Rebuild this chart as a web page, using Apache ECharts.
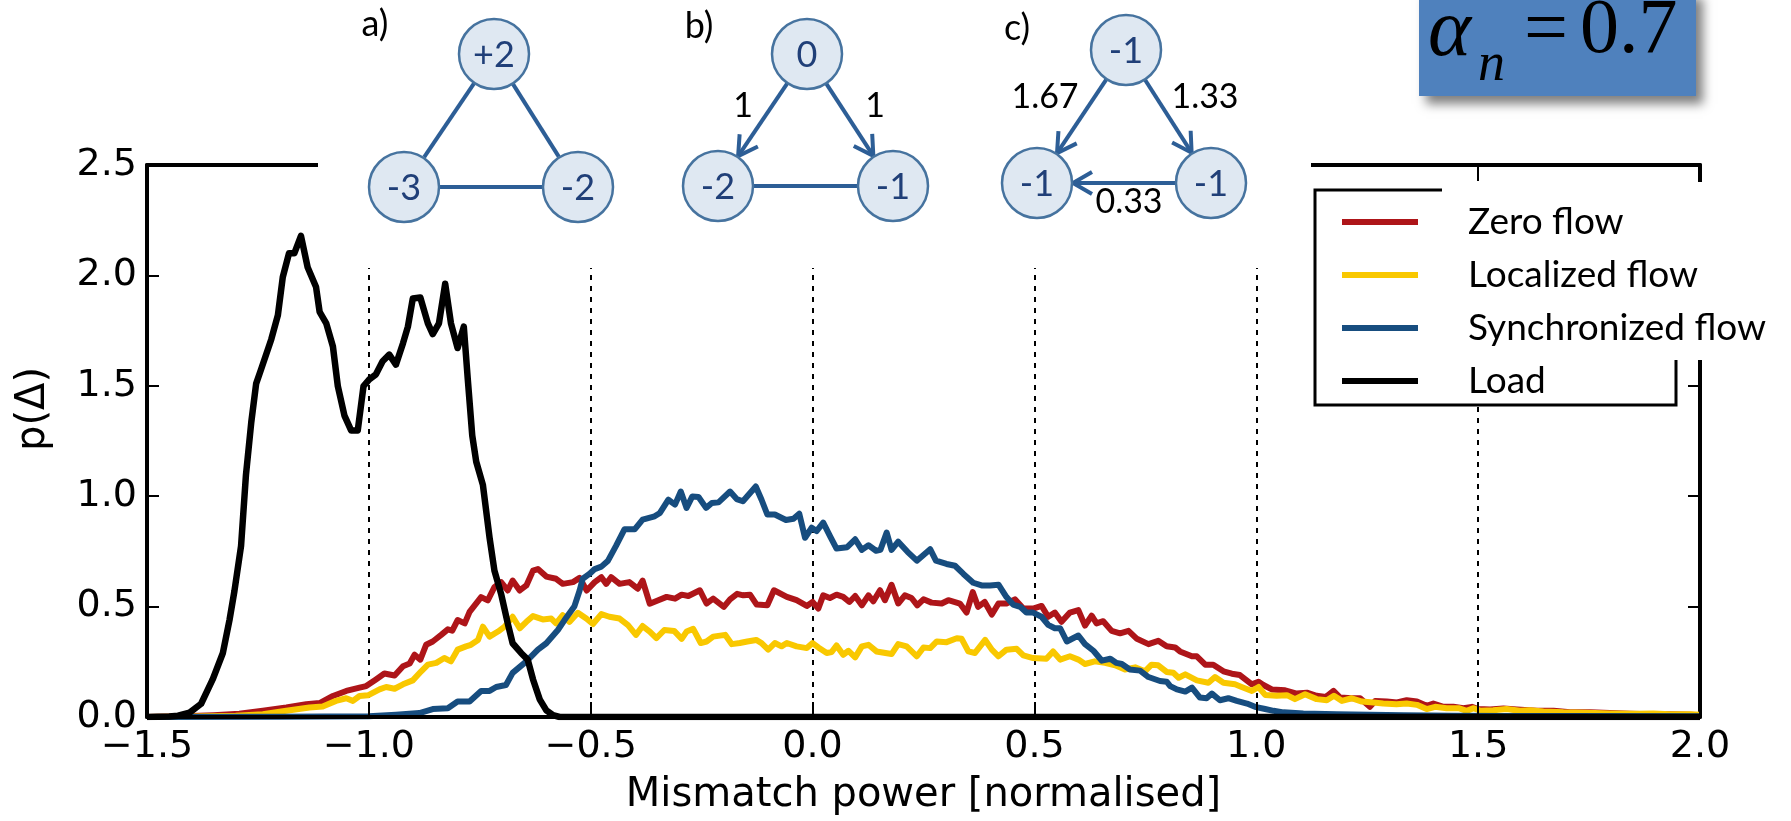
<!DOCTYPE html>
<html>
<head>
<meta charset="utf-8">
<script src="https://cdn.jsdelivr.net/npm/echarts@6/dist/echarts.min.js"></script>
<style>
  html, body { margin: 0; padding: 0; background: #fff; }
  #chart { width: 1791px; height: 821px; }
</style>
</head>
<body>
<div id="chart"></div>
<script>
// Probability densities of the nodal mismatch, [mismatch, p] pairs
const zeroFlow = [
  [-1.5,0],[-1.45,0.002],[-1.4,0.004],[-1.35,0.008],[-1.292,0.015],[-1.239,0.028],[-1.186,0.043],[-1.141,0.058],
  [-1.111,0.063],[-1.081,0.095],[-1.051,0.118],[-1.021,0.133],[-1.006,0.14],[-0.984,0.17],[-0.965,0.197],[-0.942,0.188],
  [-0.923,0.23],[-0.908,0.242],[-0.897,0.282],[-0.884,0.26],[-0.871,0.327],[-0.856,0.342],[-0.837,0.372],[-0.822,0.397],
  [-0.812,0.391],[-0.8,0.439],[-0.784,0.424],[-0.773,0.476],[-0.747,0.543],[-0.732,0.528],[-0.717,0.588],[-0.702,0.611],
  [-0.687,0.573],[-0.676,0.618],[-0.66,0.573],[-0.645,0.596],[-0.63,0.663],[-0.619,0.67],[-0.6,0.636],[-0.578,0.626],
  [-0.563,0.603],[-0.54,0.611],[-0.525,0.63],[-0.509,0.573],[-0.491,0.611],[-0.476,0.633],[-0.465,0.603],[-0.454,0.633],
  [-0.435,0.603],[-0.413,0.611],[-0.394,0.581],[-0.383,0.618],[-0.367,0.513],[-0.349,0.528],[-0.329,0.544],[-0.31,0.536],
  [-0.295,0.554],[-0.28,0.548],[-0.254,0.574],[-0.239,0.514],[-0.224,0.536],[-0.2,0.499],[-0.186,0.533],[-0.17,0.558],
  [-0.156,0.551],[-0.141,0.554],[-0.126,0.509],[-0.102,0.506],[-0.087,0.574],[-0.058,0.544],[-0.036,0.529],[-0.013,0.503],
  [0.0,0.521],[0.013,0.491],[0.024,0.551],[0.039,0.539],[0.054,0.554],[0.069,0.544],[0.083,0.521],[0.096,0.548],
  [0.111,0.506],[0.126,0.551],[0.137,0.524],[0.152,0.574],[0.163,0.529],[0.178,0.599],[0.193,0.514],[0.208,0.551],
  [0.223,0.539],[0.236,0.506],[0.25,0.533],[0.268,0.518],[0.291,0.514],[0.306,0.529],[0.332,0.514],[0.347,0.473],
  [0.361,0.566],[0.373,0.499],[0.388,0.521],[0.404,0.464],[0.419,0.514],[0.437,0.514],[0.456,0.533],[0.475,0.491],
  [0.497,0.491],[0.516,0.503],[0.531,0.454],[0.546,0.473],[0.561,0.431],[0.58,0.473],[0.599,0.484],[0.614,0.414],
  [0.629,0.459],[0.64,0.424],[0.655,0.434],[0.674,0.39],[0.693,0.379],[0.712,0.39],[0.731,0.354],[0.757,0.33],
  [0.779,0.345],[0.798,0.32],[0.817,0.315],[0.828,0.297],[0.855,0.275],[0.866,0.275],[0.885,0.237],[0.903,0.237],
  [0.926,0.207],[0.945,0.196],[0.963,0.19],[0.99,0.148],[1.005,0.16],[1.016,0.145],[1.035,0.125],[1.065,0.121],
  [1.091,0.106],[1.114,0.11],[1.136,0.096],[1.157,0.091],[1.174,0.118],[1.189,0.088],[1.215,0.085],[1.234,0.085],
  [1.256,0.046],[1.268,0.073],[1.294,0.07],[1.317,0.066],[1.339,0.076],[1.362,0.07],[1.384,0.051],[1.399,0.061],
  [1.422,0.046],[1.444,0.046],[1.467,0.04],[1.486,0.046],[1.5,0.036],[1.527,0.034],[1.557,0.039],[1.587,0.034],
  [1.632,0.028],[1.67,0.028],[1.707,0.022],[1.752,0.021],[1.797,0.018],[1.842,0.015],[1.888,0.013],[1.933,0.012],
  [1.978,0.01],[2.0,0.008]
];

const localizedFlow = [
  [-1.5,0],[-1.4,0.002],[-1.3,0.006],[-1.239,0.013],[-1.186,0.028],[-1.134,0.043],[-1.104,0.048],[-1.074,0.073],
  [-1.051,0.085],[-1.036,0.073],[-1.021,0.095],[-1.002,0.098],[-0.976,0.125],[-0.961,0.136],[-0.942,0.128],[-0.923,0.148],
  [-0.901,0.166],[-0.882,0.207],[-0.867,0.237],[-0.848,0.245],[-0.83,0.267],[-0.815,0.252],[-0.8,0.305],[-0.781,0.32],
  [-0.77,0.327],[-0.754,0.349],[-0.743,0.409],[-0.728,0.364],[-0.709,0.387],[-0.694,0.409],[-0.676,0.454],[-0.66,0.402],
  [-0.645,0.431],[-0.63,0.457],[-0.608,0.442],[-0.589,0.446],[-0.578,0.424],[-0.563,0.461],[-0.548,0.431],[-0.529,0.472],
  [-0.51,0.446],[-0.495,0.421],[-0.476,0.466],[-0.458,0.454],[-0.435,0.446],[-0.416,0.416],[-0.398,0.372],[-0.383,0.412],
  [-0.367,0.387],[-0.352,0.357],[-0.334,0.394],[-0.312,0.39],[-0.295,0.354],[-0.284,0.387],[-0.269,0.399],[-0.252,0.335],
  [-0.239,0.342],[-0.224,0.364],[-0.197,0.372],[-0.182,0.33],[-0.164,0.335],[-0.147,0.342],[-0.127,0.349],[-0.115,0.335],
  [-0.1,0.305],[-0.085,0.335],[-0.07,0.32],[-0.058,0.335],[-0.036,0.32],[-0.013,0.312],[0.0,0.335],[0.013,0.315],
  [0.032,0.29],[0.043,0.294],[0.054,0.324],[0.069,0.282],[0.081,0.3],[0.096,0.27],[0.111,0.32],[0.126,0.327],
  [0.144,0.297],[0.178,0.285],[0.193,0.33],[0.212,0.32],[0.235,0.275],[0.25,0.315],[0.265,0.312],[0.28,0.342],
  [0.302,0.339],[0.325,0.357],[0.336,0.354],[0.351,0.297],[0.366,0.29],[0.389,0.349],[0.404,0.305],[0.419,0.275],
  [0.437,0.305],[0.46,0.309],[0.475,0.279],[0.497,0.267],[0.527,0.264],[0.542,0.297],[0.558,0.26],[0.58,0.275],
  [0.599,0.26],[0.614,0.24],[0.636,0.252],[0.659,0.245],[0.682,0.234],[0.704,0.215],[0.727,0.225],[0.749,0.207],
  [0.764,0.237],[0.779,0.234],[0.798,0.204],[0.813,0.2],[0.825,0.178],[0.84,0.193],[0.866,0.166],[0.892,0.155],
  [0.907,0.181],[0.926,0.155],[0.952,0.148],[0.967,0.136],[0.99,0.118],[1.005,0.136],[1.02,0.1],[1.046,0.096],
  [1.069,0.099],[1.087,0.081],[1.11,0.103],[1.136,0.081],[1.159,0.076],[1.175,0.096],[1.193,0.073],[1.215,0.085],
  [1.238,0.07],[1.264,0.066],[1.286,0.061],[1.316,0.058],[1.339,0.061],[1.362,0.055],[1.384,0.036],[1.403,0.046],
  [1.429,0.04],[1.456,0.04],[1.474,0.028],[1.49,0.04],[1.505,0.028],[1.534,0.031],[1.564,0.036],[1.594,0.028],
  [1.617,0.031],[1.647,0.025],[1.692,0.021],[1.745,0.019],[1.797,0.016],[1.857,0.015],[1.895,0.016],[1.933,0.013],
  [1.978,0.012],[2.0,0.01]
];

const synchronizedFlow = [
  [-1.5,0],[-1.2,0.001],[-1.0,0.003],[-0.939,0.01],[-0.886,0.018],[-0.856,0.036],[-0.822,0.04],[-0.8,0.07],
  [-0.773,0.07],[-0.747,0.118],[-0.728,0.118],[-0.713,0.136],[-0.691,0.145],[-0.676,0.2],[-0.645,0.252],[-0.619,0.305],
  [-0.6,0.334],[-0.574,0.394],[-0.559,0.439],[-0.537,0.5],[-0.525,0.573],[-0.518,0.626],[-0.503,0.648],[-0.491,0.67],
  [-0.476,0.681],[-0.461,0.708],[-0.443,0.775],[-0.424,0.85],[-0.401,0.85],[-0.383,0.894],[-0.356,0.909],[-0.344,0.924],
  [-0.325,0.984],[-0.31,0.962],[-0.297,1.021],[-0.284,0.947],[-0.271,0.999],[-0.257,0.996],[-0.24,0.947],[-0.227,0.969],
  [-0.212,0.972],[-0.186,1.021],[-0.171,0.987],[-0.157,0.977],[-0.128,1.044],[-0.115,0.984],[-0.102,0.917],[-0.085,0.917],
  [-0.06,0.892],[-0.043,0.898],[-0.03,0.921],[-0.017,0.812],[-0.002,0.857],[0.009,0.842],[0.024,0.88],[0.039,0.82],
  [0.054,0.763],[0.078,0.769],[0.096,0.805],[0.111,0.757],[0.126,0.778],[0.143,0.753],[0.153,0.757],[0.167,0.835],
  [0.178,0.757],[0.193,0.794],[0.214,0.748],[0.235,0.708],[0.265,0.76],[0.278,0.708],[0.302,0.693],[0.321,0.685],
  [0.34,0.648],[0.362,0.608],[0.381,0.596],[0.4,0.596],[0.419,0.599],[0.437,0.543],[0.452,0.509],[0.468,0.499],
  [0.482,0.473],[0.497,0.473],[0.516,0.454],[0.531,0.417],[0.546,0.402],[0.558,0.402],[0.573,0.342],[0.599,0.369],
  [0.614,0.33],[0.633,0.3],[0.652,0.255],[0.671,0.264],[0.685,0.245],[0.697,0.24],[0.715,0.215],[0.738,0.21],
  [0.757,0.181],[0.783,0.163],[0.798,0.16],[0.806,0.14],[0.821,0.125],[0.84,0.115],[0.855,0.133],[0.873,0.088],
  [0.888,0.085],[0.9,0.106],[0.918,0.076],[0.937,0.085],[0.956,0.073],[0.979,0.061],[0.997,0.046],[1.02,0.036],
  [1.039,0.028],[1.061,0.021],[1.106,0.016],[1.181,0.013],[1.256,0.01],[1.332,0.008],[1.444,0.006],[1.557,0.005],
  [1.707,0.004],[2.0,0.003]
];

const load = [
  [-1.5,0],[-1.45,0.002],[-1.43,0.006],[-1.404,0.02],[-1.378,0.06],[-1.352,0.17],[-1.329,0.29],[-1.314,0.44],
  [-1.303,0.57],[-1.288,0.775],[-1.277,1.096],[-1.265,1.335],[-1.254,1.51],[-1.243,1.574],[-1.22,1.71],[-1.205,1.82],
  [-1.194,1.992],[-1.18,2.1],[-1.168,2.1],[-1.153,2.179],[-1.138,2.037],[-1.119,1.947],[-1.111,1.835],[-1.096,1.783],
  [-1.081,1.678],[-1.07,1.499],[-1.055,1.365],[-1.04,1.298],[-1.025,1.298],[-1.012,1.499],[-0.999,1.529],[-0.984,1.552],
  [-0.969,1.611],[-0.954,1.641],[-0.939,1.596],[-0.923,1.693],[-0.912,1.768],[-0.901,1.895],[-0.884,1.9],[-0.867,1.783],
  [-0.856,1.734],[-0.842,1.783],[-0.828,1.962],[-0.815,1.783],[-0.8,1.671],[-0.786,1.768],[-0.777,1.529],[-0.767,1.275],
  [-0.758,1.156],[-0.743,1.051],[-0.728,0.812],[-0.717,0.663],[-0.702,0.558],[-0.687,0.424],[-0.676,0.334],[-0.657,0.29],
  [-0.642,0.26],[-0.63,0.17],[-0.615,0.08],[-0.6,0.03],[-0.585,0.008],[-0.57,0],[2.0,0]
];

const seriesNames = ['Zero flow', 'Localized flow', 'Synchronized flow', 'Load'];
const seriesColors = ['#ae1519', '#f9c800', '#174d7f', '#000000'];
const seriesData = [zeroFlow, localizedFlow, synchronizedFlow, load];

// Three-node network sketches above the plot
const diagrams = [
  { label: 'a)', labelAt: [375, 24],
    nodes: [['+2', 494, 54], ['-3', 404, 187], ['-2', 578, 187]],
    edges: [[0, 1, false], [0, 2, false], [1, 2, false]] },
  { label: 'b)', labelAt: [699, 26],
    nodes: [['0', 807, 54], ['-2', 718, 186], ['-1', 893, 186]],
    edges: [[0, 1, true, '1', 743, 106], [0, 2, true, '1', 875, 106], [1, 2, false]] },
  { label: 'c)', labelAt: [1017, 28],
    nodes: [['-1', 1126, 50], ['-1', 1037, 183], ['-1', 1211, 183]],
    edges: [[0, 1, true, '1.67', 1045, 97], [0, 2, true, '1.33', 1205, 97], [2, 1, true, '0.33', 1129, 202]] }
];

const NODE_R = 35;
const EDGE_COLOR = '#2d5e96';
const sans = 'Lato';
const serif = '"Liberation Serif", "DejaVu Serif", serif';
const axisFont = 'DejaVu Sans';

function textEl(x, y, text, size, family, fill, opts) {
  opts = opts || {};
  return {
    type: 'text', z: opts.z || 62, x: x, y: y, rotation: opts.rotation || 0,
    style: {
      text: text, fill: fill, fontSize: size, fontFamily: family,
      fontStyle: opts.italic ? 'italic' : 'normal',
      align: opts.align || 'center', verticalAlign: 'middle',
      textAlign: opts.align || 'center', textVerticalAlign: 'middle'
    }
  };
}

function diagramElements(d) {
  const els = [];
  d.edges.forEach(e => {
    const a = d.nodes[e[0]], b = d.nodes[e[1]];
    const dx = b[1] - a[1], dy = b[2] - a[2];
    const len = Math.sqrt(dx * dx + dy * dy);
    const ux = dx / len, uy = dy / len;
    const sx = a[1] + ux * NODE_R, sy = a[2] + uy * NODE_R;
    const ex = b[1] - ux * (NODE_R + 1), ey = b[2] - uy * (NODE_R + 1);
    els.push({ type: 'line', z: 60, shape: { x1: sx, y1: sy, x2: ex, y2: ey },
      style: { stroke: EDGE_COLOR, lineWidth: 4 } });
    if (e[2]) {
      const L = 19, W = 11, nx = -uy, ny = ux;
      els.push({ type: 'polyline', z: 60,
        shape: { points: [[ex - ux * L + nx * W, ey - uy * L + ny * W], [ex, ey], [ex - ux * L - nx * W, ey - uy * L - ny * W]] },
        style: { stroke: EDGE_COLOR, lineWidth: 4, fill: null, lineJoin: 'miter' } });
    }
    if (e[3]) els.push(textEl(e[4], e[5], e[3], 34, sans, '#000'));
  });
  d.nodes.forEach(n => {
    els.push({ type: 'circle', z: 61, shape: { cx: n[1], cy: n[2], r: NODE_R },
      style: { fill: '#dfe8f2', stroke: '#46739f', lineWidth: 2.5 } });
    els.push(textEl(n[1], n[2] + 1, n[0], 36, sans, '#203f78'));
  });
  els.push(textEl(d.labelAt[0], d.labelAt[1], d.label, 36, sans, '#000'));
  return els;
}

const graphicElements = [
  // blank backdrop behind the network sketches
  { type: 'rect', z: 50, shape: { x: 318, y: 0, width: 993, height: 268 }, style: { fill: '#fff' } },
  // legend frame and its backdrop
  { type: 'rect', z: 50, shape: { x: 1315, y: 190, width: 361, height: 215 },
    style: { fill: '#fff', stroke: '#000', lineWidth: 3 } },
  { type: 'rect', z: 51, shape: { x: 1442, y: 182, width: 349, height: 178 }, style: { fill: '#fff' } },
  // parameter badge
  { type: 'rect', z: 55, shape: { x: 1419, y: -10, width: 277, height: 106 },
    style: { fill: '#4f81bd', shadowBlur: 10, shadowOffsetX: 7, shadowOffsetY: 8, shadowColor: 'rgba(0,0,0,0.5)' } },
  textEl(1428, 33, 'α', 82, serif, '#000', { italic: true, align: 'left', z: 56 }),
  textEl(1478, 66, 'n', 54, serif, '#000', { italic: true, align: 'left', z: 56 }),
  textEl(1546, 33, '=', 78, serif, '#000', { z: 56 }),
  textEl(1580, 32, '0.7', 78, serif, '#000', { align: 'left', z: 56 }),
  // y axis title
  textEl(34, 409, 'p(Δ)', 40, axisFont, '#000', { rotation: Math.PI / 2, z: 56 })
];
diagrams.forEach(d => graphicElements.push(...diagramElements(d)));

const tickFmt = v => (v < 0 ? '\u2212' : '') + Math.abs(v).toFixed(1);

const chart = echarts.init(document.getElementById('chart'), null, { renderer: 'canvas' });
chart.setOption({
  animation: false,
  backgroundColor: '#fff',
  grid: { left: 147, right: 91, top: 165, bottom: 98 },
  legend: {
    data: seriesNames,
    orient: 'vertical',
    left: 1337, top: 197,
    zlevel: 1,
    icon: 'rect',
    itemWidth: 76, itemHeight: 6,
    itemGap: 13,
    selectedMode: false,
    textStyle: { fontFamily: sans, fontSize: 37, color: '#000', lineHeight: 40, padding: [0, 0, 0, 45] }
  },
  xAxis: [
    {
      type: 'value', min: -1.5, max: 2, interval: 0.5, position: 'bottom', z: 3,
      name: 'Mismatch power [normalised]', nameLocation: 'middle', nameGap: 59,
      nameTextStyle: { fontFamily: axisFont, fontSize: 40, color: '#000' },
      axisLine: { show: true, onZero: false, lineStyle: { color: '#000', width: 4 } },
      axisTick: { show: true, inside: true, length: 15, lineStyle: { color: '#000', width: 2 } },
      axisLabel: { formatter: tickFmt, margin: 11, fontFamily: axisFont, fontSize: 38, color: '#000' },
      splitLine: { show: false }
    },
    {
      type: 'value', min: -1.5, max: 2, interval: 0.5, position: 'top',
      axisLine: { show: true, onZero: false, lineStyle: { color: '#000', width: 4 } },
      axisTick: { show: true, inside: true, length: 15, lineStyle: { color: '#000', width: 2 } },
      axisLabel: { show: false },
      splitLine: { show: true, lineStyle: { color: '#000', width: 2, type: [5, 6] } }
    }
  ],
  yAxis: [
    {
      type: 'value', min: 0, max: 2.5, interval: 0.5, position: 'left', z: 3,
      axisLine: { show: true, onZero: false, lineStyle: { color: '#000', width: 4 } },
      axisTick: { show: true, inside: true, length: 12, lineStyle: { color: '#000', width: 2 } },
      axisLabel: { formatter: v => v.toFixed(1), margin: 10, fontFamily: axisFont, fontSize: 38, color: '#000' },
      splitLine: { show: false }
    },
    {
      type: 'value', min: 0, max: 2.5, interval: 0.5, position: 'right',
      axisLine: { show: true, onZero: false, lineStyle: { color: '#000', width: 4 } },
      axisTick: { show: true, inside: true, length: 12, lineStyle: { color: '#000', width: 2 } },
      axisLabel: { show: false },
      splitLine: { show: false }
    }
  ],
  series: seriesNames.map((name, i) => ({
    name: name,
    type: 'line',
    xAxisIndex: 0, yAxisIndex: 0,
    data: seriesData[i],
    showSymbol: false,
    symbol: 'none',
    color: seriesColors[i],
    lineStyle: { color: seriesColors[i], width: i === 3 ? 6.5 : 6, join: 'round' },
    z: 2 + i * 0.1
  })),
  graphic: { elements: graphicElements }
});
</script>
</body>
</html>
